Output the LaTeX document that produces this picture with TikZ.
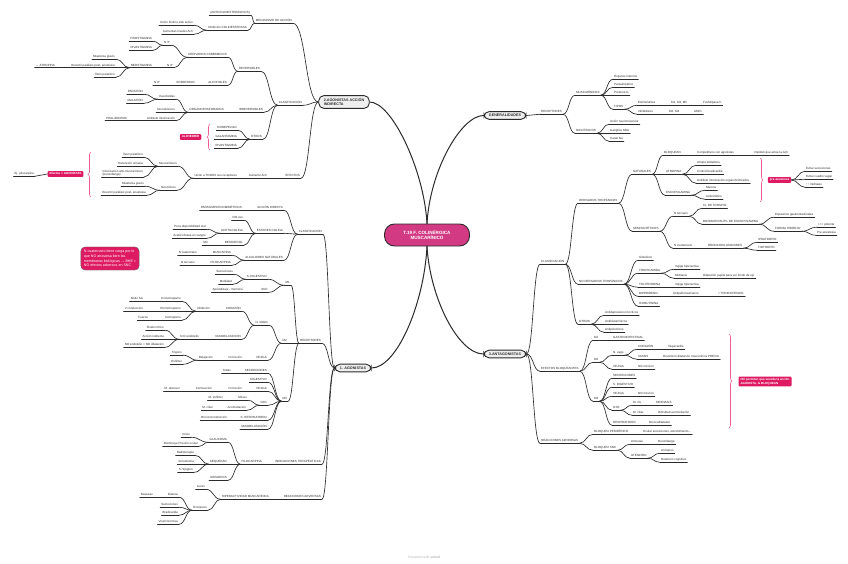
\documentclass[tikz,border=0pt]{standalone}
\usepackage{fontspec}
\setmainfont{Liberation Sans}
\usetikzlibrary{calc,decorations.pathreplacing}
\definecolor{cCenter}{HTML}{D33A84}
\definecolor{cTag}{HTML}{DE1B62}
\definecolor{cBrace}{HTML}{EC5B95}
\definecolor{cMain}{HTML}{EFEFEF}
\definecolor{cInk}{HTML}{2B2B2B}
\newcommand{\tpfont}{\fontsize{3}{3.5}\selectfont}

\begin{document}
\begin{tikzpicture}[
    x=1pt, y=-1pt, line cap=round,
    ln/.style={draw=cInk, line width=0.65pt},
    mln/.style={draw=cInk, line width=1pt},
    sc/.style={to path={let \p1=(\tikztostart), \p2=(\tikztotarget) in
        .. controls ({0.5*(\x1+\x2)},\y1) and ({0.5*(\x1+\x2)},\y2) .. (\tikztotarget)}},
    tb/.style={font=\tpfont, text=cInk, inner xsep=1pt, inner ysep=0.6pt,
        append after command={(\tikzlastnode.south west) edge[ln] (\tikzlastnode.south east)}},
    tp/.style={tb, text height=2.2pt, text depth=0.7pt},
    lt/.style={tp, anchor=east},
    rt/.style={tp, anchor=west},
    mainbox/.style={draw=cInk, fill=cMain, line width=0.9pt, rounded corners=5pt, text=cInk,
        font=\fontsize{3.7}{4.4}\selectfont\bfseries, inner xsep=5pt, inner ysep=2.5pt},
    tag/.style={fill=cTag, text=white, font=\tpfont\bfseries, rounded corners=1pt,
        inner xsep=2pt, inner ysep=1.5pt, text height=2.2pt, text depth=0.6pt},
    note/.style={fill=cTag, draw=black!60, line width=0.4pt, text=white, align=left,
        rounded corners=4pt, inner sep=3pt},
    brcl/.style={draw=cBrace, line width=0.6pt, decorate, decoration={brace, mirror, amplitude=3pt}},
    brcr/.style={draw=cBrace, line width=0.6pt, decorate, decoration={brace, amplitude=3pt}}
]
\useasboundingbox (0,0) rectangle (848,564);
\fill[white] (0,0) rectangle (848,564);

% centre and main topics
\node[draw=cInk, line width=0.9pt, fill=cCenter, text=white, align=center, rounded corners=10pt,
      font=\fontsize{4.6}{5.6}\selectfont\bfseries, minimum width=85pt, minimum height=22pt] (cen) at (427,235) {T.19 F. COLINÉRGICA\\MUSCARÍNICO};
\node[mainbox, align=left] (agii) at (344,102) {2.AGONISTAS ACCIÓN\\INDIRECTA};
\node[mainbox] (agi) at (353,368) {1. AGONISTAS};
\node[mainbox] (gen) at (505,115.5) {GENERALIDADES};
\node[mainbox] (ant) at (505,354) {3.ANTAGONISTAS};

\draw[mln] (cen.north) .. controls +(-3,-54) and +(22,0) .. (agii.east);
\draw[mln] (cen.north) .. controls +(3,-54) and +(-22,0) .. (gen.west);
\draw[mln] (cen.south) .. controls +(-3,58) and +(25,0) .. (agi.east);
\draw[mln] (cen.south) .. controls +(3,52) and +(-25,0) .. (ant.west);

% 2. agonistas accion indirecta
\node[lt] (meca) at (293,21) {MECANISMO DE ACCIÓN};
\node[lt] (anti) at (251,13) {(ANTICOLINESTERÁSICOS)};
\node[lt] (inhc) at (248,28) {Inhibición COLINESTERASA};
\node[lt] (union) at (194,23) {Unión fósforo sitio activo};
\node[lt] (aumn) at (194,32) {Aumentan niveles Ach};
\node[lt] (clai) at (303,103) {CLASIFICACIÓN};
\node[lt] (reve) at (261,69) {REVERSIBLES};
\node[lt] (deca) at (228,55) {DERIVADOS CARBÁMICOS};
\node[lt] (nter) at (171,43) {N 3º};
\node[lt] (fiso) at (153,39) {FISOSTIGMINA};
\node[lt] (riva) at (153,48) {RIVASTIGMINA};
\node[lt] (ncua) at (174,65.5) {N 4º};
\node[lt] (neos) at (153,65.5) {NEOSTIGMINA};
\node[lt] (mias) at (116,57) {Miastenia gravis};
\node[lt] (rev1) at (116,65.5) {Revertir parálisis post- anestesia};
\node[lt] (atro1) at (56,65.5) {→ ATROPINA};
\node[lt] (ileo) at (116,75) {Íleon paralítico};
\node[lt] (alco) at (228,83) {ALCOHOLES};
\node[lt] (edro) at (196,83) {EDROFONIO};
\node[lt] (ncu2) at (161,83) {N 4º};
\node[lt] (irre) at (264,110) {IRREVERSIBLES};
\node[lt] (orga) at (225,110) {ORGANOFOSFORADOS};
\node[lt] (inse) at (176,97) {Insecticidas};
\node[lt] (para) at (144,92) {PARATIÓN};
\node[lt] (mala) at (144,101) {MALATIÓN};
\node[lt] (neur) at (176,110) {Neurotóxicos};
\node[lt] (antd) at (176,118.5) {Antídoto intoxicación};
\node[lt] (pral) at (128,118.5) {PRALIDOXIMA};
\node[lt] (otri) at (263,137) {OTROS};
\node[lt] (done) at (238,128) {DONEPEZILO};
\node[lt] (gala) at (238,137) {GALANTAMINA};
\node[lt] (riv2) at (238,146) {RIVASTIGMINA};
\node[tag] (alzh) at (190.5,137) {ALZHEIMER};
\draw[brcl] (210,124) -- (210,150);
\node[lt] (efec) at (301,176) {EFECTOS};
\node[lt] (aume) at (268,176) {Aumento Ach};
\node[lt] (unio) at (238,176) {Unión a TODOS sus receptores};
\node[lt] (musc) at (178,164) {Muscarínicos};
\node[lt] (nico) at (177,188) {Nicotínicos};
\node[lt] (ile2) at (144,155) {Íleon paralítico};
\node[lt] (rete) at (144,164) {Retención urinaria};
\node[tb, anchor=south east, align=left] (into) at (144,177) {Intoxicación anti-muscarínicos\\(burundanga)};
\node[lt] (mia2) at (145,184) {Miastenia gravis};
\node[lt] (rev2) at (147,193) {Revertir parálisis post- anestesia};
\node[tag] (efag) at (65.5,174) {Efectos = AGONISTAS};
\draw[brcl] (91,152) -- (91,197);
\node[lt] (pilo1) at (35,174) {Ej. pilocarpina};

% 1. agonistas
\node[lt] (cla1) at (323,232) {CLASIFICACIÓN};
\node[lt] (acdi) at (284,208) {ACCIÓN DIRECTA};
\node[lt] (pasi) at (243,208) {PARASIMPATICOMIMÉTICOS};
\node[lt] (este) at (284,231) {ÉSTERES COLINA};
\node[lt] (nous) at (244,218) {NO uso};
\node[lt] (acet) at (244,231) {ACETILCOLINA};
\node[lt] (poco) at (207,227) {Poca disponibilidad oral};
\node[lt] (acsa) at (207,236) {Acetilcolinasa en sangre};
\node[lt] (beta) at (244,243) {BETANECOL};
\node[lt] (no1) at (209,243) {NO};
\node[lt] (alca) at (284,258) {ALCALOIDES NATURALES};
\node[lt] (musa) at (232,253) {MUSCARINA};
\node[lt] (ncu3) at (198,253) {N cuaternario};
\node[lt] (pila) at (232,263) {PILOCARPINA};
\node[lt] (nte2) at (196,263) {N terciario};
\node[note, font=\fontsize{3.6}{4.8}\selectfont] (nbhe) at (110,258.5) {N cuaternario tiene carga por lo\\que NO atraviesa bien las\\membranas biológicas → BHE =\\NO efectos adversos en SNC};
\node[lt] (rec1) at (322,341) {RECEPTORES};
\node[lt] (mone) at (291,283) {M1};
\node[lt] (sdig) at (268,277) {S. DIGESTIVO};
\node[lt] (secr) at (234,272) {Secreciones};
\node[lt] (moti) at (233,282) {Motilidad};
\node[lt] (snc) at (269,290) {SNC};
\node[lt] (apre) at (244,290) {Aprendizaje - memoria};
\node[lt] (mtwo) at (288,341) {M2};
\node[lt] (vago) at (269,323) {N. VAGO};
\node[lt] (cora) at (242,309) {CORAZÓN};
\node[lt] (inhi) at (211,309) {Inhibición};
\node[lt] (cron) at (182,299) {Cronotropismo};
\node[lt] (nodo) at (144,299) {Nodo SA};
\node[lt] (drom) at (182,309) {Dromotropismo};
\node[lt] (vcon) at (144,309) {V conducción};
\node[lt] (inot) at (182,318) {Inotropismo};
\node[lt] (fuer) at (149,318) {Fuerza};
\node[lt] (vaso) at (242,337) {VASODILATACIÓN};
\node[lt] (noen) at (200,337) {N.O endotelio};
\node[lt] (oxid) at (165,328) {Óxido nítrico};
\node[lt] (acci) at (165,337) {Acción indirecta};
\node[lt] (nodi) at (165,345) {NO endotelio = NO dilatación};
\node[lt] (veji) at (268,358) {VEJIGA};
\node[lt] (nmic) at (243,358) {N micción};
\node[lt] (rela) at (214,358) {Relajación};
\node[lt] (trig) at (183,353) {Trígono};
\node[lt] (esfi) at (183,362) {Esfínter};
\node[lt] (mthr) at (288,399) {M3};
\node[lt] (sec2) at (268,371) {SECRECIONES};
\node[lt] (toda) at (232,371) {Todas};
\node[lt] (dige) at (268,380) {DIGESTIVO};
\node[lt] (vej2) at (268,389) {VEJIGA};
\node[lt] (nmi2) at (243,389) {N micción};
\node[lt] (cont) at (213,389) {Contracción};
\node[lt] (detr) at (181,389) {M. detrusor};
\node[lt] (ojo1) at (268,403) {OJO};
\node[lt] (mios) at (248,398) {Miosis};
\node[lt] (mesf) at (224,398) {M. esfínter};
\node[lt] (acom) at (247,408) {Acomodación};
\node[lt] (mcil) at (214,408) {M. ciliar};
\node[lt] (resp) at (268,418) {S. RESPIRATORIO};
\node[lt] (bron) at (228,418) {Broncoconstricción};
\node[lt] (vas2) at (268,427) {VASODILATACIÓN};
\node[lt] (indi) at (322,462) {INDICACIONES TERAPÉUTICAS};
\node[lt] (pil2) at (263,462) {PILOCARPINA};
\node[lt] (glau) at (228,440) {GLAUCOMA};
\node[lt] (cris) at (191,435) {Crisis};
\node[lt] (dism) at (199,444) {Disminuye Presión ocular};
\node[lt] (sequ) at (228,462) {SEQUEDAD};
\node[lt] (radi) at (195,453) {Radioterapia};
\node[lt] (xero) at (195,462) {Xerostomía};
\node[lt] (sjog) at (194,470) {S. Sjögren};
\node[lt] (urin) at (228,478) {URINARIOS};
\node[lt] (reac) at (322,497) {REACCIONES ADVERSAS};
\node[lt] (hipe) at (270,497) {HIPERACTIVIDAD MUSCARÍNICA};
\node[lt] (leve) at (206,487) {Leves};
\node[lt] (exce) at (208,508) {Excesivos};
\node[lt] (diar) at (179,495) {Diarrea};
\node[lt] (naus) at (154,495) {Náuseas};
\node[lt] (sec3) at (179,505) {Secreciones};
\node[lt] (brad) at (179,513) {Bradicardia};
\node[lt] (visi) at (179,522) {Visión borrosa};

% generalidades
\node[rt] (rece) at (540,112) {RECEPTORES};
\node[rt] (mus2) at (575,93) {MUSCARÍNICOS};
\node[rt] (organ) at (613,77) {Órganos internos};
\node[rt] (paras) at (613,85) {Parasimpático};
\node[rt] (prot) at (613,93) {Proteína G};
\node[rt] (tipo) at (613,107) {TIPOS};
\node[rt] (esti) at (637,103) {Estimulantes};
\node[rt] (mmm) at (670,103) {M1, M3, M5};
\node[rt] (fosf) at (702,103) {Fosfolipasa C};
\node[rt] (inhb) at (637,112) {Inhibidores};
\node[rt] (mm24) at (668,112) {M2, M4};
\node[rt] (ampc) at (693,112) {AMPc};
\node[rt] (nic2) at (575,131) {NICOTÍNICOS};
\node[rt] (unmu) at (609,122) {Unión neuromuscular};
\node[rt] (gang) at (609,131) {Ganglios SNA};
\node[rt] (cana) at (609,139) {Canal Na};

% 3. antagonistas
\node[rt] (cla3) at (540,262) {CLASIFICACIÓN};
\node[rt] (detr2) at (578,201) {DERIVADOS TROPÁNICOS};
\node[rt] (natu) at (632,172) {NATURALES};
\node[rt] (bloq) at (663,153) {BLOQUEAN};
\node[rt] (comp) at (696,153) {Competitivos con agonistas};
\node[rt] (impi) at (753,153) {Impiden que actúe la Ach};
\node[rt] (atr2) at (665,172) {ATROPINA};
\node[rt] (atrb) at (696,163) {Atropa belladona};
\node[rt] (cont2) at (696,172) {Control bradicardia};
\node[rt] (anto) at (696,181) {Antídoto intoxicación organofosforados};
\node[rt] (esco) at (665,193) {ESCOPOLAMINA};
\node[rt] (mare) at (705,188) {Mareos};
\node[rt] (ante) at (705,197) {Antiemético};
\draw[brcr] (760,158) -- (760,202);
\node[tag] (pre) at (779.5,180) {pre-anestesia};
\node[rt] (evs) at (805,169) {Evitar secreciones};
\node[rt] (evv) at (805,177) {Evitar cuadro vagal};
\node[rt] (mid) at (805,185) {↑↑ midriasis};
\node[rt] (semi) at (632,229) {SEMISINTÉTICOS};
\node[rt] (nte3) at (673,214) {N terciario};
\node[rt] (tros) at (702,206) {CL DE TROSPIO};
\node[rt] (brom) at (702,222) {BROMURO BUTIL DE ESCOPOLAMINA};
\node[rt] (espa) at (774,215) {Espasmos gastrointestinales};
\node[rt] (form) at (774,229) {FORMA HIDRO-Br};
\node[rt] (pote) at (817,225) {+++ potente};
\node[rt] (pre2) at (816,233) {Pre-anestesia};
\node[rt] (ncu4) at (673,246) {N cuaternario};
\node[rt] (bdil) at (707,246) {BRONCODILATADORES};
\node[rt] (ipra) at (757,240) {IPRATROPIO};
\node[rt] (tiot) at (757,248) {TIOTROPIO};
\node[rt] (nodt) at (578,282) {NO DERIVADOS TROPÁNICOS};
\node[rt] (sint) at (638,258) {Sintéticos};
\node[rt] (trop) at (638,271) {TROPICAMIDA};
\node[rt] (vhi1) at (674,267) {Vejiga hiperactiva};
\node[rt] (midr) at (674,276) {Midriasis};
\node[rt] (dila) at (702,276) {Dilatación pupila para ver fondo de ojo};
\node[rt] (tolt) at (638,285) {TOLTERODINA};
\node[rt] (vhi2) at (674,285) {Vejiga hiperactiva};
\node[rt] (bipe) at (638,294) {BIPERIDENO};
\node[rt] (antp) at (672,294) {Antiparkinsonianos};
\node[rt] (trih) at (717,294) {≈ TRIHEXIFENIDIL};
\node[rt] (oxib) at (638,304) {OXIBUTININA};
\node[rt] (otr3) at (578,322) {OTROS};
\node[rt] (antc) at (604,313) {Antidepresivos tricíclicos};
\node[rt] (anth) at (604,322) {Antihistamínicos};
\node[rt] (antps) at (604,330) {Antipsicóticos};
\node[rt] (efbl) at (540,369) {EFECTOS BLOQUEANTES};
\node[rt] (m1b) at (593,338) {M1};
\node[rt] (gast) at (612,338) {GASTROINTESTINAL};
\node[rt] (m2b) at (593,360) {M2};
\node[rt] (nvag) at (612,353) {N. vago};
\node[rt] (cor2) at (637,347) {CORAZÓN};
\node[rt] (taqu) at (667,347) {Taquicardia};
\node[rt] (vasb) at (637,357) {VASOS};
\node[rt] (reve2) at (662,357) {Reversión dilatación muscarínica PREVIA};
\node[rt] (vejb) at (612,367) {VEJIGA};
\node[rt] (nomi) at (637,367) {NO micción};
\node[rt] (m3b) at (593,399) {M3};
\node[rt] (secb) at (612,376) {SECRECIONES};
\node[rt] (sdib) at (612,385) {S. DIGESTIVO};
\node[rt] (vejc) at (612,394) {VEJIGA};
\node[rt] (nomc) at (637,394) {NO micción};
\node[rt] (ojob) at (612,408) {OJO};
\node[rt] (miri) at (632,403) {M. iris};
\node[rt] (mdr) at (655,403) {MIDRIASIS};
\node[rt] (mcb) at (632,413) {M. ciliar};
\node[rt] (difi) at (657,413) {Dificultad acomodación};
\node[rt] (resb) at (612,423) {RESPIRATORIO};
\node[rt] (brob) at (648,423) {Broncodilatador};
\draw[brcr] (729,334) -- (729,428);
\node[tag, align=left, font=\fontsize{3}{4}\selectfont\bfseries, text height=, text depth=] (nope) at (765,381.5) {NO permiten que suceda la acción\\AGONISTA, la BLOQUEAN};
\node[rt] (reab) at (540,441) {REACCIONES ADVERSAS};
\node[rt] (blpe) at (593,432) {BLOQUEO PERIFÉRICO};
\node[rt] (ocul) at (642,432) {Ocular secreciones, estreñimiento...};
\node[rt] (blsn) at (593,448) {BLOQUEO SNC};
\node[rt] (amne) at (630,442) {Amnesia};
\node[rt] (buru) at (657,442) {Burundanga};
\node[rt] (aten) at (630,456) {ATENCIÓN};
\node[rt] (anci) at (660,451) {Ancianos};
\node[rt] (dete) at (660,460) {Deterioro cognitivo};

\node[font=\fontsize{3.2}{3.2}\selectfont, text=black!30] (wm) at (424,557) {Presented with \textbf{xmind}};

% connectors
\foreach \ch in {meca,clai,efec} \draw[ln] (agii.west) to[sc] (\ch.south east);
\foreach \ch in {cla1,rec1,indi,reac} \draw[ln] (agi.west) to[sc] (\ch.south east);
\draw[ln] (gen.east) to[sc] (rece.south west);
\foreach \ch in {cla3,efbl,reab} \draw[ln] (ant.east) to[sc] (\ch.south west);
\draw[ln] (efag.west) -- (pilo1.south east);
\foreach \ch in {evs,evv,mid} \draw[ln] (pre.east) to[sc] (\ch.south west);

\foreach \pa/\ch in {meca/anti, meca/inhc, inhc/union, inhc/aumn, clai/reve, clai/irre, clai/otri,
    reve/deca, reve/alco, deca/nter, deca/ncua, nter/fiso, nter/riva, ncua/neos, neos/mias, neos/rev1,
    neos/ileo, rev1/atro1, alco/edro, edro/ncu2, irre/orga, orga/inse, orga/neur, orga/antd, inse/para,
    inse/mala, antd/pral, otri/done, otri/gala, otri/riv2, efec/aume, aume/unio, unio/musc, unio/nico,
    musc/ile2, musc/rete, musc/into, nico/mia2, nico/rev2,
    cla1/acdi, acdi/pasi, cla1/este, este/nous, este/acet, este/beta, acet/poco, acet/acsa, beta/no1,
    cla1/alca, alca/musa, alca/pila, musa/ncu3, pila/nte2,
    rec1/mone, rec1/mtwo, rec1/mthr, mone/sdig, mone/snc, sdig/secr, sdig/moti, snc/apre, mtwo/vago,
    mtwo/veji, vago/cora, vago/vaso, cora/inhi, inhi/cron, inhi/drom, inhi/inot, cron/nodo, drom/vcon,
    inot/fuer, vaso/noen, noen/oxid, noen/acci, noen/nodi, veji/nmic, nmic/rela, rela/trig, rela/esfi,
    mthr/sec2, mthr/dige, mthr/vej2, mthr/ojo1, mthr/resp, mthr/vas2, sec2/toda, vej2/nmi2, nmi2/cont,
    cont/detr, ojo1/mios, ojo1/acom, mios/mesf, acom/mcil, resp/bron,
    indi/pil2, pil2/glau, pil2/sequ, pil2/urin, glau/cris, glau/dism, sequ/radi, sequ/xero, sequ/sjog,
    reac/hipe, hipe/leve, hipe/exce, exce/diar, diar/naus, exce/sec3, exce/brad, exce/visi}
  \draw[ln] (\pa.south west) to[sc] (\ch.south east);

\foreach \pa/\ch in {rece/mus2, rece/nic2, mus2/organ, mus2/paras, mus2/prot, mus2/tipo, tipo/esti,
    tipo/inhb, esti/mmm, mmm/fosf, inhb/mm24, mm24/ampc, nic2/unmu, nic2/gang, nic2/cana,
    cla3/detr2, cla3/nodt, cla3/otr3, detr2/natu, detr2/semi, natu/bloq, natu/atr2, natu/esco,
    bloq/comp, comp/impi, atr2/atrb, atr2/cont2, atr2/anto, esco/mare, esco/ante, semi/nte3, semi/ncu4,
    nte3/tros, nte3/brom, brom/espa, brom/form, form/pote, form/pre2, ncu4/bdil, bdil/ipra, bdil/tiot,
    nodt/sint, nodt/trop, nodt/tolt, nodt/bipe, nodt/oxib, trop/vhi1, trop/midr, midr/dila, tolt/vhi2,
    bipe/antp, antp/trih, otr3/antc, otr3/anth, otr3/antps,
    efbl/m1b, efbl/m2b, efbl/m3b, m1b/gast, m2b/nvag, m2b/vejb, nvag/cor2, nvag/vasb, cor2/taqu,
    vasb/reve2, vejb/nomi, m3b/secb, m3b/sdib, m3b/vejc, m3b/ojob, m3b/resb, vejc/nomc, ojob/miri,
    ojob/mcb, miri/mdr, mcb/difi, resb/brob,
    reab/blpe, reab/blsn, blpe/ocul, blsn/amne, blsn/aten, amne/buru, aten/anci, aten/dete}
  \draw[ln] (\pa.south east) to[sc] (\ch.south west);

\end{tikzpicture}
\end{document}
